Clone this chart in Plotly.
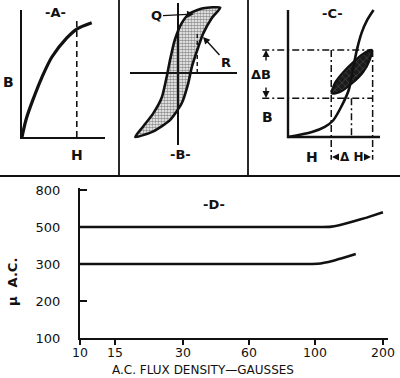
import numpy as np
import plotly.graph_objects as go

W, H = 400, 378

# ---------------- data ----------------
# Panel A: initial magnetisation curve (normalised H, B)
a_H = [0.0, 0.05, 0.13, 0.24, 0.36, 0.54, 0.66, 0.84]
a_B = [0.0, 0.14, 0.29, 0.47, 0.63, 0.78, 0.85, 0.90]
a_mark_H = [0.66, 0.66]
a_mark_B = [0.0, 0.94]

# Panel B: hysteresis loop (upper branch rising, lower branch returning)
b_up_H = [-0.80, -0.65, -0.46, -0.30, -0.21, -0.15, -0.06, 0.07, 0.22, 0.47, 0.79]
b_up_B = [-0.91, -0.76, -0.57, -0.34, -0.05, 0.18, 0.47, 0.71, 0.85, 0.92, 0.93]
b_dn_H = [0.79, 0.63, 0.47, 0.38, 0.26, 0.19, 0.07, -0.15, -0.46, -0.80]
b_dn_B = [0.93, 0.78, 0.56, 0.37, 0.09, -0.15, -0.43, -0.67, -0.83, -0.91]
b_mark_H = [0.36, 0.36]
b_mark_B = [0.0, 0.57]

# Panel C: magnetisation curve with incremental minor loop
c_H = [0.0, 0.26, 0.40, 0.49, 0.58, 0.66, 0.71, 0.75, 0.80, 0.86, 0.93]
c_B = [0.0, 0.04, 0.08, 0.13, 0.24, 0.37, 0.55, 0.69, 0.82, 0.92, 1.00]
c_loop_H = [0.475, 0.51, 0.60, 0.71, 0.815, 0.91, 0.89, 0.815, 0.70, 0.565, 0.475]
c_loop_B = [0.344, 0.425, 0.51, 0.59, 0.655, 0.685, 0.61, 0.51, 0.425, 0.354, 0.344]
c_B_levels = [0.305, 0.685]
c_H_levels = [0.47, 0.69, 0.92]
c_axis_H = [0.0, 0.0, 1.0]
c_axis_B = [1.0, 0.0, 0.0]

# Panel D: mu A.C. vs A.C. flux density (gausses)
d_x_ticks = [10, 15, 30, 60, 100, 200]
d_y_ticks = [100, 200, 300, 500, 800]
d_upper_gauss = [10, 60, 110, 122, 137, 156, 176, 200]
d_upper_mu = [500, 500, 500, 501, 516, 544, 576, 619]
d_lower_gauss = [10, 60, 95, 104, 127, 147, 160]
d_lower_mu = [300, 300, 300, 301, 318, 339, 354]

# ---------------- scales for panel D (hand-drawn, non-uniform) ----------------
d_x_pos = [0.0, 0.52, 1.53, 2.51, 3.49, 4.5]
d_y_pos = [0, 1, 2, 3, 4]
def gx(v):
    return list(np.interp(v, d_x_ticks, d_x_pos))
def my(v):
    return list(np.interp(v, d_y_ticks, d_y_pos))

def PX(x):
    return x / W
def PY(y):
    return 1 - y / H

INK = "#111111"
FONT = "DejaVu Sans"

fig = go.Figure()

# Panel A
fig.add_trace(go.Scatter(x=a_H, y=a_B, mode="lines", xaxis="x", yaxis="y",
                         line=dict(color=INK, width=3.2, shape="spline", smoothing=0.8)))
fig.add_trace(go.Scatter(x=a_mark_H, y=a_mark_B, mode="lines", xaxis="x", yaxis="y",
                         line=dict(color=INK, width=1.6, dash="6px,4px")))

# Panel B
loop_x = b_up_H + b_dn_H[1:]
loop_y = b_up_B + b_dn_B[1:]
fig.add_trace(go.Scatter(x=loop_x, y=loop_y, mode="lines", xaxis="x2", yaxis="y2",
                         fill="toself", fillcolor="rgba(0,0,0,0)",
                         fillpattern=dict(shape=".", fgcolor="#222222", bgcolor="rgba(255,255,255,0)",
                                          size=3, solidity=0.6),
                         line=dict(color=INK, width=2.6, shape="spline", smoothing=0.6)))
fig.add_trace(go.Scatter(x=b_mark_H, y=b_mark_B, mode="lines", xaxis="x2", yaxis="y2",
                         line=dict(color=INK, width=1.4, dash="4px,3px")))

# Panel C
dd = "7px,3px,2px,3px"
fig.add_trace(go.Scatter(x=c_axis_H, y=c_axis_B, mode="lines", xaxis="x3", yaxis="y3",
                         line=dict(color=INK, width=2.4)))
for b in c_B_levels:
    fig.add_trace(go.Scatter(x=[-0.28, c_H_levels[2]], y=[b, b], mode="lines", xaxis="x3", yaxis="y3",
                             line=dict(color=INK, width=1.5, dash=dd)))
fig.add_trace(go.Scatter(x=[c_H_levels[0]] * 2, y=[c_B_levels[1], -0.18], mode="lines", xaxis="x3", yaxis="y3",
                         line=dict(color=INK, width=1.5, dash=dd)))
fig.add_trace(go.Scatter(x=[c_H_levels[1]] * 2, y=[c_B_levels[0], 0.0], mode="lines", xaxis="x3", yaxis="y3",
                         line=dict(color=INK, width=1.5, dash=dd)))
fig.add_trace(go.Scatter(x=[c_H_levels[2]] * 2, y=[c_B_levels[1], -0.18], mode="lines", xaxis="x3", yaxis="y3",
                         line=dict(color=INK, width=1.5, dash=dd)))
fig.add_trace(go.Scatter(x=c_loop_H, y=c_loop_B, mode="lines", xaxis="x3", yaxis="y3",
                         fill="toself", fillcolor="#1a1a1a",
                         fillpattern=dict(shape="x", fgcolor="#bbbbbb", bgcolor="#1a1a1a", size=5, solidity=0.15),
                         line=dict(color=INK, width=2.2, shape="spline", smoothing=0.7)))
fig.add_trace(go.Scatter(x=c_H, y=c_B, mode="lines", xaxis="x3", yaxis="y3",
                         line=dict(color=INK, width=2.6, shape="spline", smoothing=0.8)))

# Panel D
fig.add_trace(go.Scatter(x=gx(d_upper_gauss), y=my(d_upper_mu), mode="lines", xaxis="x4", yaxis="y4",
                         line=dict(color=INK, width=2.6, shape="spline", smoothing=0.4)))
fig.add_trace(go.Scatter(x=gx(d_lower_gauss), y=my(d_lower_mu), mode="lines", xaxis="x4", yaxis="y4",
                         line=dict(color=INK, width=2.6, shape="spline", smoothing=0.4)))

hidden = dict(showgrid=False, zeroline=False, showticklabels=False, ticks="", showline=False,
              fixedrange=True, automargin=False)

layout = dict(
    width=W, height=H, margin=dict(l=0, r=0, t=0, b=0, autoexpand=False),
    paper_bgcolor="white", plot_bgcolor="rgba(0,0,0,0)", showlegend=False,
    font=dict(family=FONT, color=INK, size=13),
    xaxis=dict(domain=[PX(22), PX(105)], range=[0, 1], anchor="y", **{**hidden, "showline": True},
               linecolor=INK, linewidth=2.4),
    yaxis=dict(domain=[PY(137), PY(10)], range=[0, 1], anchor="x", **{**hidden, "showline": True},
               linecolor=INK, linewidth=2.4),
    xaxis2=dict(domain=[PX(130), PX(237)], range=[-0.897, 1.103], anchor="y2",
                **{**hidden, "zeroline": True}, zerolinecolor=INK, zerolinewidth=1.6),
    yaxis2=dict(domain=[PY(145), PY(3)], range=[-1.024, 0.996], anchor="x2",
                **{**hidden, "zeroline": True}, zerolinecolor=INK, zerolinewidth=1.6),
    xaxis3=dict(domain=[PX(250), PX(395)], range=[(250 - 288) / 92, (395 - 288) / 92], anchor="y3", **hidden),
    yaxis3=dict(domain=[PY(170), PY(5)], range=[(137 - 170) / 127, (137 - 5) / 127], anchor="x3", **hidden),
    xaxis4=dict(domain=[PX(80), PX(388)], range=[0, 4.575], anchor="y4", automargin=False,
                showgrid=False, zeroline=False, showline=True, linecolor=INK, linewidth=2.2,
                ticks="outside", ticklen=5, tickwidth=1.6, tickcolor=INK,
                tickvals=d_x_pos, ticktext=[str(v) for v in d_x_ticks], ticklabelstandoff=-3,
                tickfont=dict(size=12.5, family=FONT, color=INK), fixedrange=True),
    yaxis4=dict(domain=[PY(338), PY(188)], range=[0, 4.054], anchor="x4", automargin=False,
                showgrid=False, zeroline=False, showline=True, linecolor=INK, linewidth=2.2,
                ticks="inside", ticklen=7, tickwidth=1.6, tickcolor=INK,
                tickvals=d_y_pos, ticktext=[str(v) for v in d_y_ticks], ticklabelstandoff=15,
                tickfont=dict(size=13, family=FONT, color=INK), fixedrange=True),
)

shapes = [
    dict(type="line", xref="paper", yref="paper", x0=PX(119), x1=PX(119), y0=PY(176), y1=1,
         line=dict(color=INK, width=1.8)),
    dict(type="line", xref="paper", yref="paper", x0=PX(248), x1=PX(248), y0=PY(176), y1=1,
         line=dict(color=INK, width=1.8)),
    dict(type="line", xref="paper", yref="paper", x0=0, x1=1, y0=PY(176), y1=PY(176),
         line=dict(color=INK, width=2.2)),
]

def label(x, y, text, size=13, bold=True, angle=0):
    return dict(xref="paper", yref="paper", x=PX(x), y=PY(y), text=text, showarrow=False,
                xanchor="center", yanchor="middle", textangle=angle,
                font=dict(size=size, family=FONT, color=INK, weight="bold" if bold else "normal"))

def arrow(x_tip, y_tip, ax, ay, text="", size=13):
    return dict(xref="paper", yref="paper", x=PX(x_tip), y=PY(y_tip), ax=ax, ay=ay,
                text=text, showarrow=True, arrowhead=2, arrowsize=1, arrowwidth=1.4,
                arrowcolor=INK, standoff=0,
                font=dict(size=size, family=FONT, color=INK, weight="bold"))

annotations = [
    label(55, 12, "-A-"),
    label(8, 82, "B", 14),
    label(77, 155, "H", 14),
    label(180, 155, "-B-"),
    arrow(194, 14, -38, 2, "Q"),
    arrow(203, 37, 23, 25, "R"),
    label(332, 13, "-C-"),
    label(261, 74, "ΔB", 13),
    arrow(266, 50, 0, 12),
    arrow(266, 98, 0, -12),
    label(267, 117, "B", 14),
    label(312, 157, "H", 14),
    label(352, 157, "Δ H", 12),
    arrow(332, 157, 6, 0),
    arrow(371, 157, -6, 0),
    label(214, 204, "-D-"),
    label(12, 282, "μ  A.C.", 13, True, -90),
    label(203, 369.5, "A.C. FLUX DENSITY—GAUSSES", 12, False),
]

fig.update_layout(**layout, shapes=shapes, annotations=annotations)
fig.write_html("out.html", config={"displayModeBar": False},
               post_script="document.body.style.margin='0';document.body.style.padding='0';"
                           "document.body.style.overflow='hidden';")
